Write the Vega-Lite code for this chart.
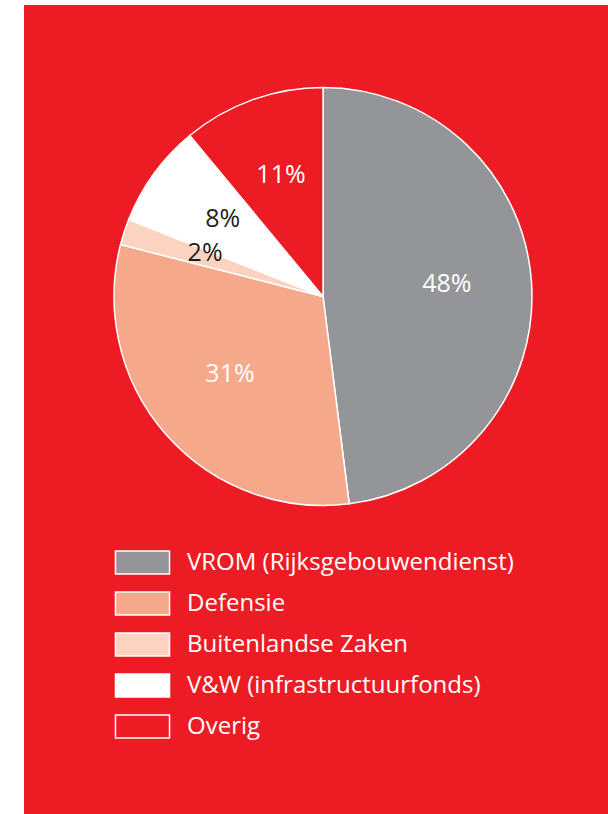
{
  "$schema": "https://vega.github.io/schema/vega-lite/v6.json",
  "width": 584,
  "height": 809,
  "autosize": {"type": "none"},
  "padding": {"left": 24, "top": 5, "right": 0, "bottom": 0},
  "background": "white",
  "view": {"fill": "#ED1C24", "stroke": null},
  "config": {"view": {"fill": "#ED1C24", "stroke": null}, "font": "Open Sans"},
  "data": {
    "values": [
      {"nr": 1, "categorie": "VROM (Rijksgebouwendienst)", "aandeel": 48, "label": "48%"},
      {"nr": 2, "categorie": "Defensie", "aandeel": 31, "label": "31%"},
      {"nr": 3, "categorie": "Buitenlandse Zaken", "aandeel": 2, "label": "2%"},
      {"nr": 4, "categorie": "V&W (infrastructuurfonds)", "aandeel": 8, "label": "8%"},
      {"nr": 5, "categorie": "Overig", "aandeel": 11, "label": "11%"}
    ]
  },
  "encoding": {
    "theta": {"field": "aandeel", "type": "quantitative", "stack": true},
    "order": {"field": "nr", "type": "quantitative"}
  },
  "layer": [
    {
      "mark": {
        "type": "arc",
        "radius": 209,
        "x": {"expr": "width/2 + 7"},
        "y": {"expr": "height/2 - 113"},
        "stroke": "white",
        "strokeWidth": 1.5
      },
      "encoding": {
        "color": {
          "field": "categorie",
          "type": "nominal",
          "scale": {
            "domain": ["VROM (Rijksgebouwendienst)", "Defensie", "Buitenlandse Zaken", "V&W (infrastructuurfonds)", "Overig"],
            "range": ["#939598", "#F6A98A", "#FCD3C1", "#FFFFFF", "#ED1C24"]
          },
          "legend": {
            "orient": "none",
            "legendX": 106,
            "legendY": 545,
            "title": null,
            "padding": 0,
            "symbolType": "M-2.35,-1H2.35V1H-2.35Z",
            "symbolSize": 529,
            "symbolStrokeColor": "white",
            "symbolStrokeWidth": 1.5,
            "labelFontSize": 24,
            "labelColor": "white",
            "labelFont": "Open Sans",
            "labelOffset": 32,
            "labelLimit": 0,
            "rowPadding": 12
          }
        }
      }
    },
    {
      "mark": {
        "type": "text",
        "radius": 124,
        "x": {"expr": "width/2 + 7"},
        "y": {"expr": "height/2 - 118"},
        "fontSize": 25,
        "font": "Open Sans",
        "align": "center",
        "baseline": "middle"
      },
      "encoding": {
        "text": {"field": "label", "type": "nominal"},
        "color": {
          "condition": {"test": "datum.nr === 3 || datum.nr === 4", "value": "#231F20"},
          "value": "white"
        }
      }
    }
  ]
}
